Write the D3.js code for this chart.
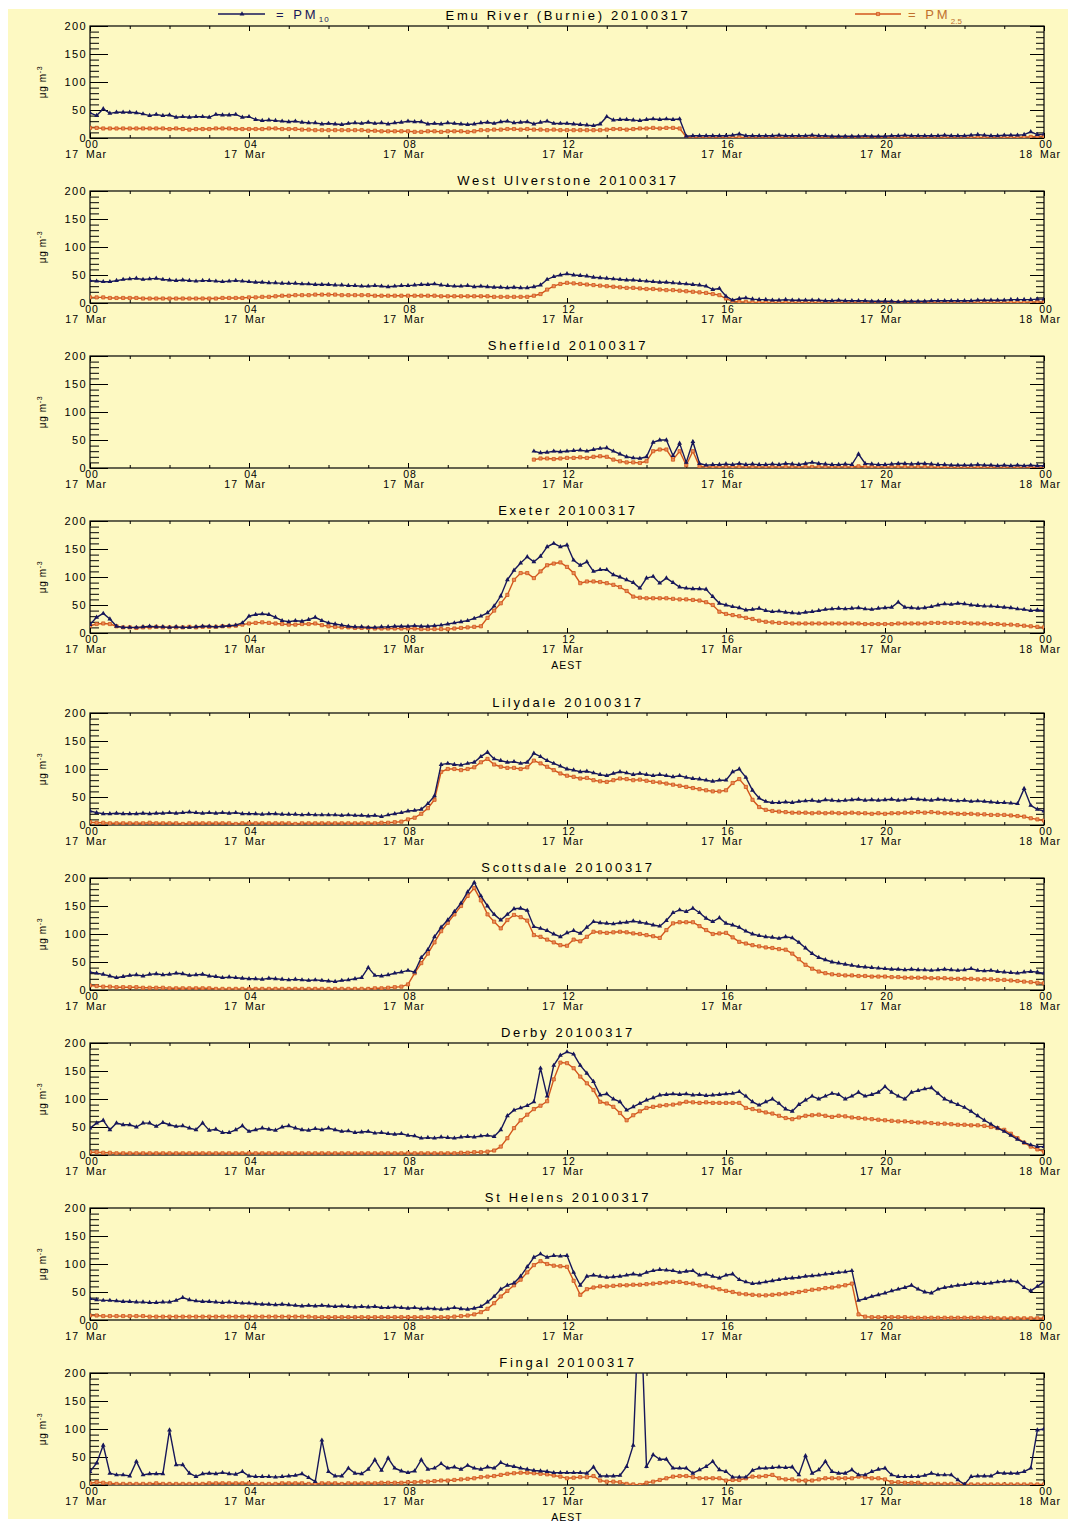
<!DOCTYPE html>
<html><head><meta charset="utf-8">
<script src="https://cdn.jsdelivr.net/npm/d3@7"></script>
<style>body{margin:0;background:#fff}svg text{font-family:"Liberation Sans",Arial,sans-serif}</style>
</head><body><div id="chart"></div>
<script>
// ---------------- DATA (10-minute values, 17 Mar 00:00 .. 18 Mar 00:00) ----------------
const stationNames = ["Emu River (Burnie)","West Ulverstone","Sheffield","Exeter","Lilydale","Scottsdale","Derby","St Helens","Fingal"];
const dateLabel = "20100317";
const hourLabels = ["00","04","08","12","16","20","00"];
const dayLabels = ["17","17","17","17","17","17","18"];
const yTickLabels = [0,50,100,150,200];
const seriesNames = ["PM10","PM2.5"];

const emuPM10 = [
45,40,52,44,46,46, 46,45,43,40,42,40, 41,37,38,37,38,38, 37,42,41,41,42,37,
38,33,31,32,31,30, 29,30,28,27,27,25, 26,25,24,26,27,26, 28,26,27,25,27,28,
30,29,29,25,26,25, 27,26,25,24,25,27, 28,26,29,30,27,28, 29,25,28,30,26,26,
26,25,24,23,22,25, 38,32,33,33,32,31, 33,34,33,34,33,34, 3,4,4,4,4,4,
4,5,7,4,4,4, 4,4,5,4,4,4, 4,5,4,4,3,3, 3,3,3,4,3,3,
3,4,4,5,4,4, 4,4,4,5,4,4, 4,5,6,5,4,4, 5,5,5,6,11,6, 7];
const emuPM25 = [
18,18,17,17,17,17, 17,17,17,17,17,17, 16,17,16,15,16,16, 16,17,17,17,16,16,
16,16,16,17,17,16, 16,16,15,15,14,14, 14,14,14,14,14,14, 13,13,12,12,12,12,
12,11,11,12,12,11, 12,12,12,11,12,14, 14,15,15,16,16,15, 16,15,15,14,15,14,
14,14,14,14,14,14, 15,16,16,15,16,17, 17,18,17,18,18,17, 2,1,1,1,1,1,
1,1,1,1,1,1, 1,1,1,1,1,1, 1,1,1,1,1,1, 1,1,1,1,1,1,
1,1,1,1,1,1, 1,1,1,1,1,1, 1,1,1,1,1,1, 1,1,1,2,2,3, 3];

const ulvPM10 = [
40,39,38,38,40,42, 43,44,42,43,44,42, 41,40,41,40,39,40, 40,39,38,39,40,39,
38,37,37,36,36,35, 35,35,34,34,33,33, 33,32,32,31,31,30, 30,31,30,29,30,31,
31,32,33,33,34,32, 31,30,30,31,29,30, 29,28,28,27,28,27, 27,29,32,42,47,50,
52,50,49,48,46,45, 44,43,42,41,41,40, 39,38,37,37,36,35, 34,33,32,30,24,26,
12,5,8,9,7,6, 6,5,5,6,5,5, 5,5,5,4,4,5, 4,4,4,4,3,3,
3,3,2,3,3,3, 3,4,4,4,4,4, 4,4,5,5,5,5, 5,6,6,6,6,7, 7];
const ulvPM25 = [
10,10,10,9,9,9, 9,9,8,8,8,8, 8,8,8,8,8,8, 8,8,9,9,9,9,
10,10,11,11,12,13, 13,14,14,14,15,15, 15,15,14,14,14,14, 14,13,13,13,13,13,
13,13,13,13,13,12, 12,12,12,12,12,12, 12,11,11,11,11,11, 11,13,16,24,30,34,
36,35,34,33,32,31, 30,29,28,27,27,26, 25,25,24,23,23,22, 21,20,19,18,16,14,
8,3,2,2,1,1, 1,1,1,1,1,1, 1,1,1,1,1,1, 1,1,1,1,1,1,
1,1,1,1,1,1, 1,1,1,1,1,1, 1,1,1,1,1,1, 1,1,1,1,2,2, 2];

const shefPM10 = [
null,null,null,null,null,null, null,null,null,null,null,null, null,null,null,null,null,null, null,null,null,null,null,null,
null,null,null,null,null,null, null,null,null,null,null,null, null,null,null,null,null,null, null,null,null,null,null,null,
null,null,null,null,null,null, null,null,null,null,null,null, null,null,null,null,null,null, null,30,27,28,30,29,
30,31,32,30,33,35, 36,30,25,20,18,17, 20,46,50,50,22,44, 10,47,8,5,6,6,
7,6,8,6,7,6, 6,7,6,8,7,6, 8,10,8,7,6,6, 7,6,25,8,7,6,
6,7,8,8,7,8, 8,7,6,6,5,5, 5,5,6,5,5,4, 5,4,5,4,5,4, 4];
const shefPM25 = [
null,null,null,null,null,null, null,null,null,null,null,null, null,null,null,null,null,null, null,null,null,null,null,null,
null,null,null,null,null,null, null,null,null,null,null,null, null,null,null,null,null,null, null,null,null,null,null,null,
null,null,null,null,null,null, null,null,null,null,null,null, null,null,null,null,null,null, null,15,17,17,16,17,
18,18,19,18,20,21, 20,15,12,10,10,9, 12,30,33,33,15,30, 5,30,3,2,2,2,
2,2,2,2,2,2, 2,2,2,2,2,2, 2,2,2,2,2,2, 2,2,3,2,2,2,
2,2,2,2,2,2, 2,2,1,1,1,1, 1,1,1,1,1,1, 1,1,1,1,1,1, 1];

const exePM10 = [
15,28,35,25,12,10, 10,10,11,12,11,11, 10,11,10,10,11,12, 12,11,12,13,14,18,
30,33,34,33,28,22, 20,22,21,24,28,22, 18,16,14,12,11,11, 10,10,11,11,12,12,
12,13,12,12,13,14, 16,18,20,22,26,30, 36,48,66,95,112,125, 136,127,137,154,160,154,
157,130,121,127,110,113, 113,104,100,95,90,80, 98,101,89,98,90,82, 80,79,79,78,65,53,
50,47,45,41,42,44, 40,38,39,37,36,35, 37,38,40,42,43,44, 43,44,45,43,42,44,
45,46,55,46,45,44, 45,47,50,52,51,53, 52,50,49,48,48,47, 46,45,43,42,40,41, 40];
const exePM25 = [
13,16,17,16,12,10, 10,9,10,10,11,10, 10,10,10,11,10,11, 11,11,12,12,13,15,
17,18,19,18,17,16, 15,15,16,16,17,14, 12,11,10,10,9,9, 9,8,8,8,8,8,
8,8,7,7,7,7, 7,8,9,10,11,12, 27,40,53,68,95,107, 107,98,110,121,124,126,
118,107,89,92,92,91, 89,86,82,75,65,63, 62,62,62,62,61,60, 60,59,58,55,50,38,
34,32,30,27,25,22, 20,19,18,18,17,17, 17,17,17,17,17,17, 17,17,17,16,16,16,
16,16,17,17,17,17, 17,18,18,18,18,18, 18,17,17,17,16,16, 15,15,14,13,12,11, 10];

const lilPM10 = [
25,22,20,20,21,20, 20,20,21,20,21,21, 22,21,22,23,22,21, 22,21,22,21,22,20,
20,20,19,20,20,19, 19,19,18,19,18,18, 18,18,17,18,17,17, 16,17,15,18,20,22,
25,26,28,38,52,108, 110,108,107,110,112,122, 130,118,115,112,113,110, 112,128,122,115,110,105,
100,98,95,96,93,90, 88,92,95,93,90,92, 90,88,90,88,86,88, 85,83,82,80,78,80,
80,95,100,85,62,48, 42,40,40,41,40,42, 43,44,42,45,44,43, 44,45,46,44,45,44,
45,46,44,45,47,46, 45,44,46,45,44,43, 44,42,43,42,41,40, 40,39,38,65,35,28, 25];
const lilPM25 = [
5,4,4,3,3,3, 3,3,3,4,3,3, 3,3,2,3,3,3, 3,3,3,3,2,3,
3,3,3,3,3,3, 3,2,3,3,3,3, 3,3,3,3,3,3, 3,3,4,4,5,6,
10,13,20,30,45,95, 100,100,98,100,103,112, 118,108,104,102,102,100, 103,115,110,104,98,92,
88,86,83,84,80,78, 77,80,83,82,80,81, 79,77,76,74,72,70, 68,66,64,62,60,60,
62,75,82,68,45,32, 27,25,24,23,22,22, 22,21,22,21,22,21, 21,22,21,21,20,21,
20,21,21,22,22,23, 22,23,22,21,21,20, 20,20,19,19,18,18, 18,17,16,15,12,10, 8];

const scoPM10 = [
32,30,28,25,22,24, 26,27,25,28,29,27, 28,30,29,26,27,28, 25,24,22,23,22,21,
20,20,19,21,20,19, 18,19,18,17,18,17, 16,15,17,18,20,22, 40,26,25,27,30,32,
35,32,58,72,95,112, 125,140,155,175,192,168, 150,135,125,135,145,146, 142,113,110,106,100,95,
102,106,101,112,122,120, 119,118,120,121,123,121, 119,116,114,124,138,143, 140,146,138,128,122,129,
119,116,112,105,100,97, 95,94,92,95,93,85, 75,65,58,54,50,48, 46,44,42,41,40,39,
38,37,37,36,37,36, 36,35,36,37,36,35, 36,38,35,34,35,33, 32,31,30,32,33,32, 30];
const scoPM25 = [
8,7,6,6,5,5, 5,5,4,4,4,4, 3,3,3,3,3,3, 3,2,2,2,2,2,
2,2,2,2,2,2, 2,2,2,2,2,2, 2,2,2,2,2,2, 2,3,3,4,5,6,
10,30,48,65,85,105, 120,135,150,168,182,160, 135,122,110,125,134,130, 124,98,95,90,85,80,
79,90,87,95,104,103, 102,103,104,103,101,100, 98,96,93,107,119,121, 121,121,114,107,100,101,
102,94,86,83,80,78, 76,75,73,72,65,55, 45,38,33,30,28,27, 26,26,25,25,24,24,
24,23,23,22,22,22, 22,21,21,21,20,20, 20,20,19,19,19,18, 18,17,16,15,14,13, 12];

const derPM10 = [
48,57,62,45,57,54, 54,50,57,57,51,58, 54,51,52,48,45,57, 44,46,40,40,45,52,
42,45,48,46,44,50, 52,48,45,44,47,45, 48,45,42,43,40,41, 42,39,40,38,37,38,
35,34,30,31,30,32, 31,30,32,33,32,34, 35,33,45,70,80,84, 88,95,155,105,160,178,
184,180,160,146,131,107, 109,100,95,80,86,92, 98,102,107,108,109,108, 109,107,108,106,107,108,
109,110,113,105,95,89, 95,100,92,82,78,90, 98,105,100,105,110,108, 100,105,112,105,108,112,
122,112,105,100,112,115, 118,120,110,100,95,90, 85,78,70,62,55,48, 42,35,28,22,18,15, 15];
const derPM25 = [
5,5,4,4,3,3, 3,3,3,3,3,3, 3,3,3,3,3,3, 3,3,3,3,3,3,
3,3,3,3,3,3, 3,3,3,3,3,3, 3,3,3,3,3,3, 3,3,3,3,3,3,
3,3,3,3,3,3, 3,3,4,4,5,5, 6,8,15,30,48,62, 72,82,88,96,135,165,
164,155,140,128,116,95, 92,86,75,62,71,78, 84,86,88,89,90,92, 95,94,93,94,93,93,
93,93,93,84,82,79, 76,74,70,66,64,67, 70,71,72,70,68,70, 69,67,66,65,64,63,
62,61,60,60,59,58, 58,57,56,56,55,54, 54,53,53,52,50,48, 45,38,30,22,15,10, 6];

const sthPM10 = [
38,36,35,35,34,33, 33,32,32,31,31,32, 32,35,40,36,34,33, 33,32,31,32,31,30,
30,29,28,28,27,28, 27,26,25,26,25,26, 25,24,25,24,23,24, 23,24,22,22,23,22,
21,22,20,21,20,19, 20,22,20,19,21,24, 32,42,55,62,66,78, 95,112,118,112,115,114,
115,85,62,78,80,78, 76,77,78,80,82,80, 85,88,90,89,88,85, 87,88,80,82,78,75,
80,82,72,68,65,66, 68,70,72,74,75,76, 78,79,80,82,83,85, 86,88,35,38,42,45,
48,52,55,58,62,55, 50,48,55,58,60,62, 63,65,66,65,66,68, 69,70,68,58,52,60, 68];
const sthPM25 = [
8,8,7,7,7,7, 7,7,7,6,6,6, 6,6,6,6,6,6, 6,6,6,6,6,6,
6,6,6,6,6,6, 6,6,6,6,5,5, 5,5,5,5,5,5, 5,5,5,5,5,5,
5,5,5,5,5,5, 5,6,7,8,10,14, 20,30,42,52,62,72, 85,98,105,100,97,96,
95,70,45,55,58,60, 60,61,62,62,63,63, 64,65,66,67,68,68, 66,65,62,60,58,55,
52,50,47,46,45,44, 44,45,46,47,48,50, 52,54,55,57,58,60, 62,65,10,6,5,5,
5,5,5,5,4,4, 4,4,4,4,4,4, 4,4,4,4,4,3, 3,3,3,3,3,3, 3];

const finPM10 = [
24,39,71,21,18,18, 16,42,18,20,20,20, 98,36,36,21,15,20, 21,20,22,20,19,24,
16,15,15,15,14,15, 16,17,20,13,6,80, 24,16,16,30,21,20, 28,45,26,48,30,25,
22,25,45,28,30,38, 30,32,28,35,30,28, 32,30,40,35,33,30, 28,26,25,24,22,22,
22,22,22,21,32,16, 16,16,17,33,71,355, 33,54,46,46,30,30, 30,21,27,33,42,27,
24,14,14,14,26,30, 30,31,32,31,32,18, 52,21,27,42,24,21, 21,27,18,18,24,28,
30,18,15,15,15,15, 17,21,18,18,18,9, 1,15,16,16,16,22, 21,21,21,24,30,98, 100];
const finPM25 = [
3,5,4,3,2,2, 2,2,2,2,3,2, 2,2,2,2,2,2, 3,3,3,3,3,3,
3,2,2,2,2,3, 3,3,3,2,2,3, 3,3,2,3,3,3, 3,3,4,4,4,4,
5,5,6,6,7,8, 8,9,10,11,12,14, 15,16,18,20,21,22, 22,21,20,19,17,15,
12,13,14,14,16,8, 6,6,5,2,1,0, 4,6,9,12,15,16, 16,14,12,12,12,12,
8,9,9,12,15,15, 16,18,12,10,10,8, 8,8,10,12,12,12, 12,12,15,14,12,12,
10,5,5,4,4,4, 2,2,2,2,2,1, 1,1,1,1,1,1, 1,1,1,1,1,1, 1];

const pm10Series = [emuPM10, ulvPM10, shefPM10, exePM10, lilPM10, scoPM10, derPM10, sthPM10, finPM10];
const pm25Series = [emuPM25, ulvPM25, shefPM25, exePM25, lilPM25, scoPM25, derPM25, sthPM25, finPM25];

// ---------------- LAYOUT / STYLE ----------------
const W = 1068, H = 1522;
const BG = "#FDF9C2";
const C10 = "#17175a", C25 = "#d2561c", C25txt = "#c0702e";
const panelTops = [26,191,356,521,713,878,1043,1208,1373];
const PH = 112, X0 = 90, X1 = 1044;
const aestAfter = [3, 8];

const svg = d3.select("#chart").append("svg").attr("width", W).attr("height", H);
svg.append("rect").attr("width", W).attr("height", H).attr("fill", "#fff");
svg.append("rect").attr("x", 8).attr("y", 9).attr("width", W - 8).attr("height", H - 12).attr("fill", BG);

const x = d3.scaleLinear().domain([0, 144]).range([X0, X1]);
const minorX = d3.range(0, 145, 6), majorX = d3.range(0, 145, 24);
const tri = d3.symbol().type(d3.symbolTriangle).size(10);
const sq = d3.symbol().type(d3.symbolSquare).size(10);

panelTops.forEach((top, p) => {
  const y = d3.scaleLinear().domain([0, 200]).range([top + PH, top]);
  const g = svg.append("g");
  const clipId = "clip" + p;
  svg.append("clipPath").attr("id", clipId).append("rect")
    .attr("x", X0).attr("y", top).attr("width", X1 - X0).attr("height", PH);

  const styleAxis = sel => { sel.select(".domain").remove(); sel.selectAll("line").attr("stroke", "#000").attr("stroke-width", 1); };
  g.append("g").attr("transform", `translate(${X0},0)`)
    .call(d3.axisLeft(y).tickValues(d3.range(0, 201, 10)).tickSize(-9).tickFormat("")).call(styleAxis);
  const ly = g.append("g").attr("transform", `translate(${X0},0)`)
    .call(d3.axisLeft(y).tickValues(yTickLabels).tickSize(-18).tickPadding(3)).call(styleAxis);
  ly.selectAll("text").attr("font-size", 11).attr("letter-spacing", 1.4).attr("fill", "#000")
    .attr("font-family", "'Liberation Sans',Arial,sans-serif");
  g.append("g").attr("transform", `translate(${X1},0)`)
    .call(d3.axisRight(y).tickValues(d3.range(0, 201, 10)).tickSize(-8).tickFormat("")).call(styleAxis);
  g.append("g").attr("transform", `translate(${X1},0)`)
    .call(d3.axisRight(y).tickValues(yTickLabels).tickSize(-14).tickFormat("")).call(styleAxis);
  g.append("g").attr("transform", `translate(0,${top + PH})`)
    .call(d3.axisBottom(x).tickValues(minorX).tickSize(-3).tickFormat("")).call(styleAxis);
  g.append("g").attr("transform", `translate(0,${top + PH})`)
    .call(d3.axisBottom(x).tickValues(majorX).tickSize(-5).tickFormat("")).call(styleAxis);
  g.append("g").attr("transform", `translate(0,${top})`)
    .call(d3.axisTop(x).tickValues(minorX).tickSize(-3).tickFormat("")).call(styleAxis);
  g.append("g").attr("transform", `translate(0,${top})`)
    .call(d3.axisTop(x).tickValues(majorX).tickSize(-5).tickFormat("")).call(styleAxis);

  g.append("rect").attr("x", X0).attr("y", top).attr("width", X1 - X0).attr("height", PH)
    .attr("fill", "none").attr("stroke", "#000").attr("stroke-width", 1.2);

  majorX.forEach((t, k) => {
    const tx = x(t);
    g.append("text").attr("x", tx + 2).attr("y", top + PH + 10).attr("text-anchor", "middle")
      .attr("font-size", 10.5).attr("letter-spacing", 1).text(hourLabels[k]);
    g.append("text").attr("x", tx - 11).attr("y", top + PH + 20).attr("text-anchor", "end")
      .attr("font-size", 10.5).attr("letter-spacing", 1).text(dayLabels[k]);
    g.append("text").attr("x", tx - 4).attr("y", top + PH + 20).attr("text-anchor", "start")
      .attr("font-size", 10.5).attr("letter-spacing", 1).text("Mar");
  });

  g.append("text").attr("x", 568).attr("y", top - 6).attr("text-anchor", "middle")
    .attr("font-size", 13).attr("letter-spacing", 2.7).text(stationNames[p] + " " + dateLabel);

  const yl = g.append("text").attr("transform", `translate(46,${top + PH / 2}) rotate(-90)`)
    .attr("text-anchor", "middle").attr("font-size", 10).attr("letter-spacing", 0.6);
  yl.append("tspan").text("\u03bcg m");
  yl.append("tspan").attr("dy", -4).attr("font-size", 7).text("-3");

  if (aestAfter.includes(p)) {
    g.append("text").attr("x", 567).attr("y", top + PH + 36).attr("text-anchor", "middle")
      .attr("font-size", 10.5).attr("letter-spacing", 1).text("AEST");
  }

  const plot = g.append("g").attr("clip-path", `url(#${clipId})`);
  const line = d3.line().defined(d => d != null).x((d, i) => x(i)).y(d => y(d));
  const s25 = pm25Series[p], s10 = pm10Series[p];
  plot.append("path").datum(s25).attr("d", line).attr("fill", "none").attr("stroke", C25).attr("stroke-width", 1.4);
  plot.selectAll(".m25").data(s25.map((v, i) => [i, v]).filter(d => d[1] != null)).join("path")
    .attr("d", sq).attr("transform", d => `translate(${x(d[0])},${y(d[1])})`)
    .attr("fill", "#e8905a").attr("stroke", C25).attr("stroke-width", 0.8);
  plot.append("path").datum(s10).attr("d", line).attr("fill", "none").attr("stroke", C10).attr("stroke-width", 1.4);
  plot.selectAll(".m10").data(s10.map((v, i) => [i, v]).filter(d => d[1] != null)).join("path")
    .attr("d", tri).attr("transform", d => `translate(${x(d[0])},${y(d[1])})`)
    .attr("fill", C10);
});

const lg = svg.append("g");
lg.append("line").attr("x1", 218).attr("x2", 265).attr("y1", 14).attr("y2", 14).attr("stroke", C10).attr("stroke-width", 1.3);
lg.append("path").attr("d", tri).attr("transform", "translate(242,14)").attr("fill", C10);
const t10 = lg.append("text").attr("x", 276).attr("y", 19).attr("font-size", 13).attr("letter-spacing", 3).attr("fill", C10);
t10.append("tspan").text("= PM");
t10.append("tspan").attr("dy", 3).attr("font-size", 8).attr("letter-spacing", 1).text("10");
lg.append("line").attr("x1", 855).attr("x2", 901).attr("y1", 14).attr("y2", 14).attr("stroke", C25).attr("stroke-width", 1.3);
lg.append("path").attr("d", sq).attr("transform", "translate(878,14)").attr("fill", "#e8905a").attr("stroke", C25).attr("stroke-width", 0.8);
const t25 = lg.append("text").attr("x", 908).attr("y", 19).attr("font-size", 13).attr("letter-spacing", 3).attr("fill", C25txt);
t25.append("tspan").text("= PM");
t25.append("tspan").attr("dy", 5).attr("font-size", 8).attr("letter-spacing", 0).text("2.5");
</script>
</body></html>
